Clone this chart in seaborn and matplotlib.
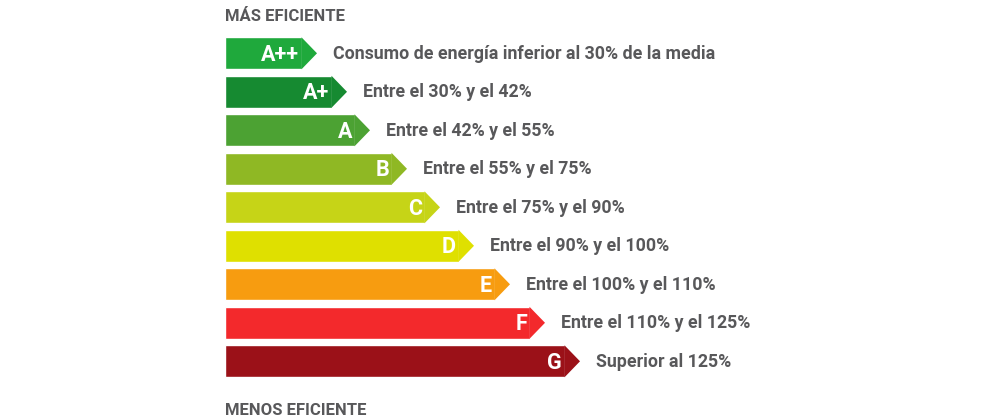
import matplotlib
matplotlib.use('Agg')
import pandas as pd
import seaborn as sns
import matplotlib.pyplot as plt
from matplotlib.patches import Polygon

sns.set_theme(style='white')
plt.rcParams['font.family'] = ['Roboto', 'DejaVu Sans']

clases = ['A++', 'A+', 'A', 'B', 'C', 'D', 'E', 'F', 'G']
longitud = [92, 122, 145, 182, 215, 249, 285, 320, 355]
descripciones = [
    'Consumo de energía inferior al 30% de la media',
    'Entre el 30% y el 42%',
    'Entre el 42% y el 55%',
    'Entre el 55% y el 75%',
    'Entre el 75% y el 90%',
    'Entre el 90% y el 100%',
    'Entre el 100% y el 110%',
    'Entre el 110% y el 125%',
    'Superior al 125%',
]
colores = ['#1fa93c', '#168a31', '#4ca233', '#8fb824', '#c6d417',
           '#dfe000', '#f79c10', '#f3292c', '#9b1118']
titulo_sup = 'MÁS EFICIENTE'
titulo_inf = 'MENOS EFICIENTE'

punta = 15
gris = '#58585a'

df = pd.DataFrame({'clase': clases, 'longitud': longitud})
df['cuerpo'] = df['longitud'] - punta

fig = plt.figure(figsize=(10, 4.17), dpi=100)
ax = fig.add_axes([0, 0, 1, 1])

sns.barplot(data=df, y='clase', x='cuerpo', hue='clase', palette=colores,
            orient='h', width=32 / 38.5, saturation=1, legend=False, ax=ax)

ax.set_xlim(-225, 775)
ax.set_ylim((417 - 53.3) / 38.5, -53.3 / 38.5)
ax.axis('off')

for patch, color, clase, texto in zip(ax.patches, colores, clases, descripciones):
    x1 = patch.get_x() + patch.get_width()
    y0 = patch.get_y()
    y1 = y0 + patch.get_height()
    yc = (y0 + y1) / 2
    ax.add_patch(Polygon([(x1 - 0.5, y0), (x1 + punta, yc), (x1 - 0.5, y1)],
                         closed=True, facecolor=color, edgecolor='none'))
    ax.text(x1 - 3, yc + 7.5 / 38.5, clase, ha='right', va='baseline',
            color='white', fontsize=15.5, fontweight='bold')
    ax.text(x1 + punta + 16, yc + 5.5 / 38.5, texto, ha='left', va='baseline',
            color=gris, fontsize=12.8, fontweight='bold')

fig.text(0.225, 1 - 20.7 / 417, titulo_sup, ha='left', va='baseline',
         color=gris, fontsize=12, fontweight='bold')
fig.text(0.225, 1 - 415 / 417, titulo_inf, ha='left', va='baseline',
         color=gris, fontsize=12, fontweight='bold')

fig.savefig('out.png', dpi=100, facecolor='white')
